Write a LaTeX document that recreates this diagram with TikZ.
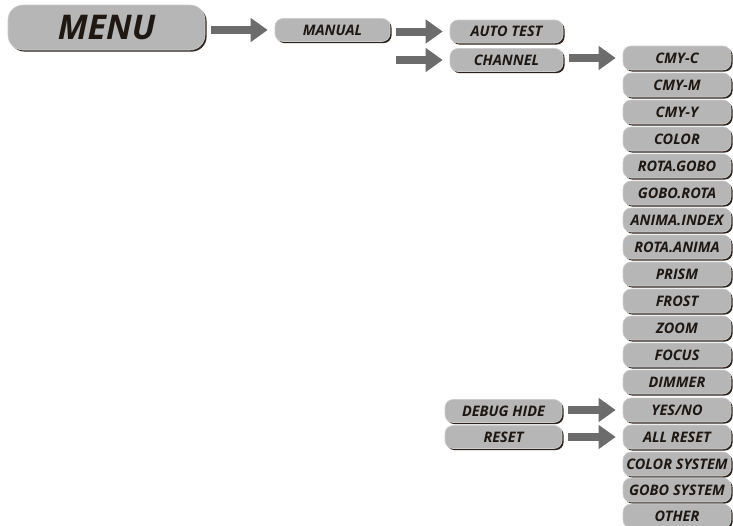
\documentclass[tikz,border=0pt]{standalone}
\usepackage{fontspec}
\setmainfont{Open Sans}
\usetikzlibrary{arrows.meta,shadows}
\definecolor{boxfill}{HTML}{B6B6B6}
\definecolor{boxshadow}{HTML}{2B221D}
\definecolor{arrowgray}{HTML}{6C6C6C}
\definecolor{txt}{HTML}{1E1712}
\tikzset{
  menubox/.style={rounded corners=8pt, fill=boxfill, draw=boxfill!70!white, line width=0.6pt,
    minimum height=23pt, inner sep=0pt, text=txt,
    font=\bfseries\itshape\fontsize{14.5}{15}\selectfont,
    general shadow={fill=boxshadow, shadow xshift=1.6pt, shadow yshift=-1.6pt}},
  colbox/.style={menubox, minimum width=108pt, minimum height=24pt},
  bigarrow/.style={draw=arrowgray, line width=8pt, -{Triangle[length=17pt,width=23pt]},
    shorten <=6pt, shorten >=7pt}
}
\begin{document}
\begin{tikzpicture}[x=1pt,y=-1pt]
\useasboundingbox (0,0) rectangle (733,525);
\node[menubox, rounded corners=15pt, minimum width=197pt, minimum height=45pt,
  font=\bfseries\itshape\fontsize{34}{34}\selectfont] (menu) at (106.5,27.5) {MENU};
\node[menubox, minimum width=115pt] (manual) at (332.5,30) {MANUAL};
\node[menubox, minimum width=113pt] (autotest) at (506.5,31.5) {AUTO TEST};
\node[menubox, minimum width=113pt] (channel) at (506.5,60) {CHANNEL};
\node[menubox, minimum width=117pt] (debug) at (503.5,411) {DEBUG HIDE};
\node[menubox, minimum width=117pt] (reset) at (503.5,437) {RESET};
\foreach \n/\t/\y in {c1/CMY-C/58, c2/CMY-M/85, c3/CMY-Y/112, c4/COLOR/139,
  c5/ROTA.GOBO/166, c6/GOBO.ROTA/193, c7/ANIMA.INDEX/220, c8/ROTA.ANIMA/247,
  c9/PRISM/274, c10/FROST/301, c11/ZOOM/328, c12/FOCUS/355, c13/DIMMER/382,
  c14/YES\slash NO/410, c15/ALL RESET/437, c16/COLOR SYSTEM/464,
  c17/GOBO SYSTEM/490, c18/OTHER/516}
  \node[colbox] (\n) at (677,\y) {\t};
\draw[bigarrow] (menu.east |- manual) -- (manual.west);
\draw[bigarrow] (manual.east |- autotest) -- (autotest.west);
\draw[bigarrow] (manual.east |- channel) -- (channel.west);
\draw[bigarrow] (channel.east |- c1) -- (c1.west);
\draw[bigarrow] (debug.east |- c14) -- (c14.west);
\draw[bigarrow] (reset.east |- c15) -- (c15.west);
\end{tikzpicture}
\end{document}
